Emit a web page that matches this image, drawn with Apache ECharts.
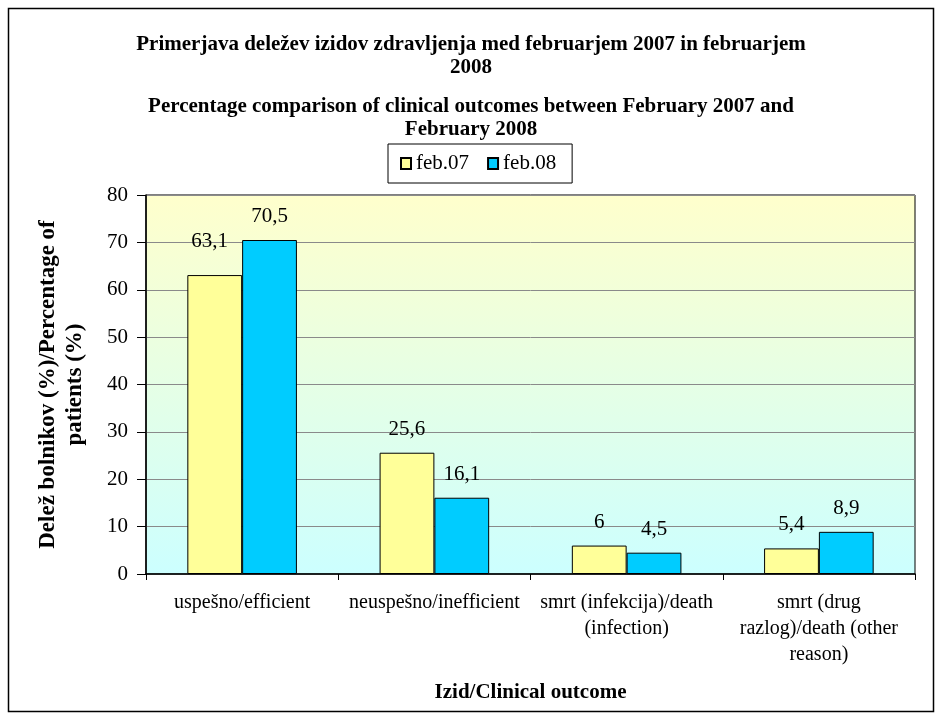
<!DOCTYPE html>
<html>
<head>
<meta charset="utf-8">
<script src="https://cdn.jsdelivr.net/npm/echarts@6/dist/echarts.min.js"></script>
<style>
  html, body { margin: 0; padding: 0; background: #ffffff; }
  #chart { width: 942px; height: 720px; }
</style>
</head>
<body>
<div id="chart"></div>
<script>
// Outcome categories (Slovenian / English), wrapped as printed under the axis
var categories = [
  'uspešno/efficient',
  'neuspešno/inefficient',
  'smrt (infekcija)/death\n(infection)',
  'smrt (drug\nrazlog)/death (other\nreason)'
];
// Share of patients per outcome, in percent
var feb07 = [63.1, 25.6, 6, 5.4];
var feb08 = [70.5, 16.1, 4.5, 8.9];
var seriesNames = ['feb.07', 'feb.08'];
var yTicks = { min: 0, max: 80, interval: 10 };

var FONT = '"Liberation Serif", "Times New Roman", serif';

function commaLabel(p) {
  return String(p.value).replace('.', ',');
}

// The first value label of a series may be nudged away from the default spot
function barData(values, firstLabelOffset) {
  return values.map(function (v, i) {
    if (i === 0 && firstLabelOffset) {
      return { value: v, label: { offset: firstLabelOffset } };
    }
    return v;
  });
}

var chart = echarts.init(document.getElementById('chart'), null, { renderer: 'canvas' });

var barLabel = {
  show: true,
  position: 'top',
  distance: 13,
  color: '#000',
  fontFamily: FONT,
  fontSize: 21,
  formatter: commaLabel
};

var titleStyle = { fontFamily: FONT, fontSize: 21, fontWeight: 'bold', lineHeight: 23, color: '#000' };

chart.setOption({
  backgroundColor: '#ffffff',
  animation: false,
  textStyle: { fontFamily: FONT, color: '#000' },
  graphic: [{
    type: 'rect',
    shape: { x: 8.5, y: 8.5, width: 925, height: 703 },
    style: { fill: 'none', stroke: '#000', lineWidth: 1.5 },
    silent: true
  }],
  title: [{
    text: 'Primerjava deležev izidov zdravljenja med februarjem 2007 in februarjem\n2008',
    left: 'center',
    top: 33,
    textStyle: titleStyle,
    padding: 0
  }, {
    text: 'Percentage comparison of clinical outcomes between February 2007 and\nFebruary 2008',
    left: 'center',
    top: 95,
    textStyle: titleStyle,
    padding: 0
  }],
  legend: {
    data: seriesNames,
    left: 388,
    top: 144,
    itemGap: 18,
    itemWidth: 10,
    itemHeight: 11,
    icon: 'rect',
    padding: [9, 16, 9, 12],
    borderColor: '#000',
    borderWidth: 1,
    backgroundColor: '#fff',
    textStyle: { fontFamily: FONT, fontSize: 21, color: '#000' }
  },
  grid: {
    left: 146,
    right: 27,
    top: 195,
    bottom: 146,
    show: true,
    borderColor: '#000',
    borderWidth: 1,
    backgroundColor: {
      type: 'linear', x: 0, y: 0, x2: 0, y2: 1,
      colorStops: [
        { offset: 0, color: '#ffffcc' },
        { offset: 1, color: '#ccffff' }
      ]
    }
  },
  xAxis: {
    type: 'category',
    data: categories,
    name: 'Izid/Clinical outcome',
    nameLocation: 'middle',
    nameGap: 108,
    nameTextStyle: { fontFamily: FONT, fontSize: 21, fontWeight: 'bold', color: '#000' },
    axisLine: { lineStyle: { color: '#000', width: 1.5 } },
    axisTick: { show: true, length: 6, lineStyle: { color: '#000' } },
    axisLabel: {
      color: '#000',
      fontFamily: FONT,
      fontSize: 20,
      lineHeight: 26,
      margin: 16,
      interval: 0
    }
  },
  yAxis: {
    type: 'value',
    min: yTicks.min,
    max: yTicks.max,
    interval: yTicks.interval,
    name: 'Delež bolnikov (%)/Percentage of\npatients (%)',
    nameLocation: 'middle',
    nameGap: 57,
    nameRotate: 90,
    nameTextStyle: { fontFamily: FONT, fontSize: 23, fontWeight: 'bold', color: '#000', lineHeight: 27 },
    axisLine: { show: true, lineStyle: { color: '#000', width: 1.5 } },
    axisTick: { show: true, inside: false, length: 9, lineStyle: { color: '#000' } },
    axisLabel: { color: '#000', fontFamily: FONT, fontSize: 21, margin: 18 },
    splitLine: { show: true, lineStyle: { color: '#8a8a8a', width: 1 } }
  },
  series: [{
    name: seriesNames[0],
    type: 'bar',
    data: barData(feb07, [-5, -10]),
    barGap: '0%',
    barCategoryGap: '43%',
    itemStyle: { color: '#ffff99', borderColor: '#000', borderWidth: 1 },
    label: barLabel
  }, {
    name: seriesNames[1],
    type: 'bar',
    data: barData(feb08, null),
    barGap: '0%',
    barCategoryGap: '43%',
    itemStyle: { color: '#00ccff', borderColor: '#000', borderWidth: 1 },
    label: barLabel
  }]
});
</script>
</body>
</html>
